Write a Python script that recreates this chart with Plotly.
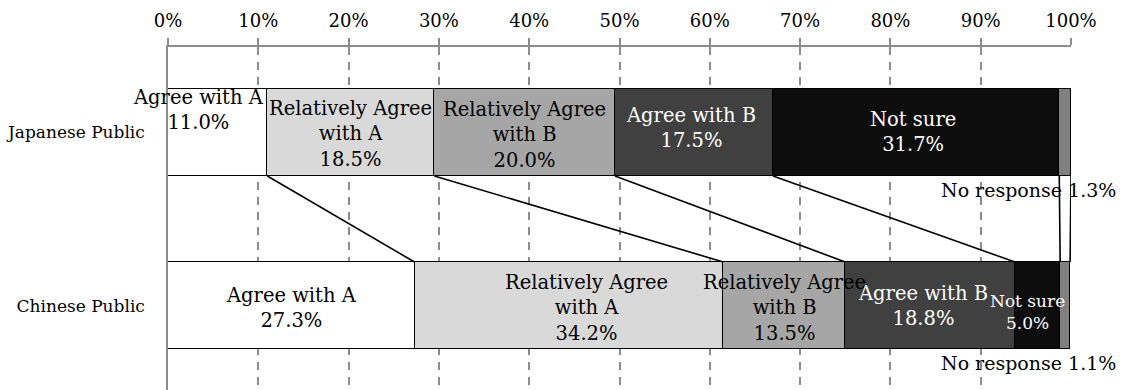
import plotly.graph_objects as go

groups = ["Japanese Public", "Chinese Public"]
categories = ["Agree with A", "Relatively Agree<br>with A", "Relatively Agree<br>with B",
              "Agree with B", "Not sure", "No response"]
japanese = [11.0, 18.5, 20.0, 17.5, 31.7, 1.3]
chinese = [27.3, 34.2, 13.5, 18.8, 5.0, 1.1]
tick_vals = [0, 10, 20, 30, 40, 50, 60, 70, 80, 90, 100]
tick_text = [f"{v}%" for v in tick_vals]

fills = ["#ffffff", "#d9d9d9", "#a6a6a6", "#404040", "#0d0d0d", "#808080"]
text_colors = ["black", "black", "black", "white", "white", "black"]
FONT = "DejaVu Serif"
ypos = {"Japanese Public": 1, "Chinese Public": 0}
BW = 0.503

fig = go.Figure()
series = {"Japanese Public": japanese, "Chinese Public": chinese}
for i, cat in enumerate(categories):
    fig.add_trace(go.Bar(
        orientation="h",
        y=[ypos[g] for g in groups],
        x=[series[g][i] for g in groups],
        width=BW,
        marker=dict(color=fills[i], line=dict(color="black", width=1.5)),
        name=cat, showlegend=False, hoverinfo="skip",
    ))

# connectors between segment boundaries
def cum(vals):
    out, s = [], 0
    for v in vals:
        s += v
        out.append(s)
    return out

cj, cc = cum(japanese), cum(chinese)
for a, b in zip(cj, cc):
    fig.add_shape(type="line", x0=a, y0=1 - BW / 2, x1=b, y1=BW / 2,
                  line=dict(color="black", width=1.6), layer="above")

# label offsets (px) and font size
shifts_j = [(-19, 22, 19.5), (0, -2, 19.5), (0, -3, 19.5), (-3, 4, 19.5), (-3, 0, 19.5)]
shifts_c = [(0, -2, 19.5), (18, -2, 19.5), (0, -2, 19.5), (-7, 0, 19.5), (-10, -6, 17)]

for g, vals, cums, shifts in [("Japanese Public", japanese, cj, shifts_j),
                              ("Chinese Public", chinese, cc, shifts_c)]:
    y = ypos[g]
    for i in range(5):
        xs, ys, fs = shifts[i]
        fig.add_annotation(
            x=cums[i] - vals[i] / 2, y=y, xref="x", yref="y",
            text=f"{categories[i]}<br>{vals[i]:.1f}%", showarrow=False,
            xshift=xs, yshift=ys, align="center",
            font=dict(family=FONT, size=fs, color=text_colors[i]),
        )
    fig.add_annotation(
        x=100, y=y - BW / 2, xref="x", yref="y", xanchor="right", yanchor="middle",
        text=f"No response {vals[5]:.1f}%", showarrow=False, xshift=47, yshift=-14,
        font=dict(family=FONT, size=19, color="black"),
    )

fig.update_layout(
    width=1126, height=390,
    margin=dict(l=168, r=55, t=47, b=0),
    barmode="stack", bargap=0,
    plot_bgcolor="white", paper_bgcolor="white",
    font=dict(family=FONT, color="black"),
    xaxis=dict(range=[0, 100], side="top", tickvals=tick_vals, ticktext=tick_text,
               tickfont=dict(size=18, family=FONT, color="black"),
               showline=True, linecolor="#8c8c8c", linewidth=1.5,
               ticks="outside", ticklen=7, tickcolor="#8c8c8c", tickwidth=1.5,
               ticklabelstandoff=4,
               showgrid=True, gridcolor="#8c8c8c", gridwidth=1.5, griddash="8px,7px",
               zeroline=False),
    yaxis=dict(range=[-0.488, 1.494], tickvals=[1, 0], ticktext=groups,
               tickfont=dict(size=17, family=FONT, color="black"),
               showline=True, linecolor="#8c8c8c", linewidth=1.5,
               showgrid=False, zeroline=False, ticks="", ticklabelstandoff=18),
)

fig.write_html("out.html", config={"displayModeBar": False},
               post_script="document.body.style.margin='0';")
